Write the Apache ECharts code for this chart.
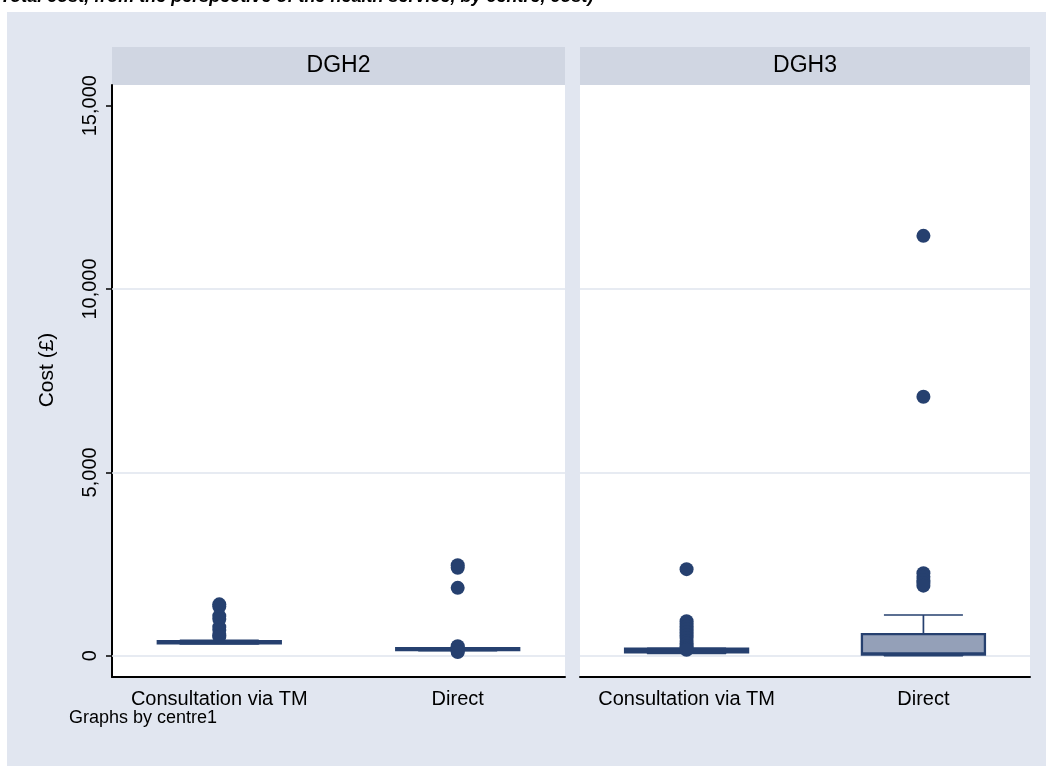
<!DOCTYPE html>
<html>
<head>
<meta charset="utf-8">
<script src="https://cdn.jsdelivr.net/npm/echarts@6/dist/echarts.min.js"></script>
<style>
html,body{margin:0;padding:0;background:#fff;}
#chart{width:1053px;height:773px;}
</style>
</head>
<body>
<div id="chart"></div>
<script>
// ---- data ----
const categories = ['Consultation via TM', 'Direct'];
const panels = ['DGH2', 'DGH3'];
const yTicks = [0, 5000, 10000, 15000];
const gridValues = [0, 5000, 10000];
// [lower whisker, Q1, median, Q3, upper whisker]
const dgh2Boxes = [[320, 335, 365, 400, 420], [140, 150, 175, 205, 215]];
const dgh3Boxes = [[60, 90, 130, 190, 200], [0, 30, 60, 590, 1110]];
// outside values
const dgh2Outliers = [
  [1400, 1340, 1080, 1000, 780, 700, 560, 520],
  [2470, 2400, 1850, 260, 240, 120, 100]
];
const dgh3Outliers = [
  [2360, 940, 870, 800, 720, 640, 560, 480, 400, 330, 260, 200, 160],
  [11450, 7060, 2250, 2150, 2050, 1980, 1910]
];
const noteText = 'Graphs by centre1';
const yTitle = 'Cost (£)';
const topTitle = '(Total cost, from the perspective of the health service, by centre, cost)';

// ---- styles ----
const FONT = '"Liberation Sans", Arial, Helvetica, sans-serif';
const NAVY = '#26406f';
const BOXFILL = '#94a0b8';
const BG = '#e1e6f0';
const STRIP = '#d0d6e2';
const GRIDC = '#dfe4ee';

const grids = [
  {left: 112, top: 85, width: 453, height: 592},
  {left: 580, top: 85, width: 450, height: 592}
];
const xMin = 0.55, xMax = 2.45;
const yMin = -581, yMax = 15564;

function catLabel(v) {
  const i = Math.round(v) - 1;
  return categories[i] || '';
}

const xAxes = [];
const yAxes = [];
grids.forEach(function (g, gi) {
  xAxes.push({
    type: 'value', gridIndex: gi, min: xMin, max: xMax,
    axisLine: {show: true, onZero: false, lineStyle: {color: '#000', width: 2}},
    axisTick: {show: false},
    splitLine: {show: false},
    axisLabel: {
      show: true, customValues: [1, 2], formatter: catLabel,
      color: '#000', fontFamily: FONT, fontSize: 20, margin: 12
    }
  });
  xAxes.push({
    type: 'value', gridIndex: gi, min: xMin, max: xMax, show: false,
    axisLine: {show: false}, axisTick: {show: false}, axisLabel: {show: false}, splitLine: {show: false}
  });
  yAxes.push({
    type: 'value', gridIndex: gi, min: yMin, max: yMax,
    axisLine: {show: gi === 0, onZero: false, lineStyle: {color: '#000', width: 2}},
    axisTick: {show: gi === 0, customValues: yTicks, length: 6, lineStyle: {color: '#000', width: 1.5}},
    splitLine: {show: false},
    axisLabel: {
      show: gi === 0, customValues: yTicks, rotate: 90, margin: 12,
      color: '#000', fontFamily: FONT, fontSize: 20,
      formatter: function (v) { return v.toLocaleString('en-US'); }
    }
  });
});

const series = [];
[dgh2Boxes, dgh3Boxes].forEach(function (boxes, gi) {
  const whiskerData = boxes.map(function (b, i) { return [i + 1, b[0], b[1], b[2], b[3], b[4]]; });
  const boxData = boxes.map(function (b, i) { return [i + 1, b[1], b[1], b[2], b[3], b[3]]; });
  series.push({
    type: 'boxplot', xAxisIndex: gi * 2 + 1, yAxisIndex: gi, z: 3,
    boxWidth: [79, 79], data: whiskerData, silent: true,
    itemStyle: {color: BOXFILL, borderColor: NAVY, borderWidth: 1.7},
    emphasis: {disabled: true}
  });
  series.push({
    type: 'boxplot', xAxisIndex: gi * 2, yAxisIndex: gi, z: 4,
    boxWidth: [123, 123], data: boxData, silent: true,
    itemStyle: {color: BOXFILL, borderColor: NAVY, borderWidth: 2.3},
    emphasis: {disabled: true}
  });
});
[dgh2Outliers, dgh3Outliers].forEach(function (outs, gi) {
  const pts = [];
  outs.forEach(function (arr, i) { arr.forEach(function (v) { pts.push([i + 1, v]); }); });
  series.push({
    type: 'scatter', xAxisIndex: gi * 2, yAxisIndex: gi, z: 5,
    symbol: 'circle', symbolSize: 14, data: pts, silent: true,
    itemStyle: {color: NAVY, opacity: 1},
    markLine: {
      silent: true, symbol: ['none', 'none'], z: 1, animation: false,
      label: {show: false},
      lineStyle: {color: GRIDC, width: 1.5, type: 'solid'},
      emphasis: {disabled: true},
      data: gridValues.map(function (v) { return {yAxis: v}; })
    }
  });
});

const graphics = [
  {type: 'rect', z: -12, silent: true, shape: {x: 7, y: 12, width: 1039, height: 754}, style: {fill: BG}},
  {type: 'text', z: 10, silent: true, x: -6, y: 6,
   style: {text: topTitle, fill: '#000', font: 'italic bold 18px ' + FONT, verticalAlign: 'bottom', align: 'left'}},
  {type: 'text', z: 10, silent: true, x: 69, y: 718,
   style: {text: noteText, fill: '#000', font: '18px ' + FONT, verticalAlign: 'middle', align: 'left'}},
  {type: 'text', z: 10, silent: true, x: 47, y: 370, rotation: Math.PI / 2,
   style: {text: yTitle, fill: '#000', font: '21px ' + FONT, verticalAlign: 'middle', align: 'center'}}
];
grids.forEach(function (g, gi) {
  graphics.push({type: 'rect', z: -11, silent: true,
    shape: {x: g.left, y: 47, width: g.width, height: g.top - 47}, style: {fill: STRIP}});
  graphics.push({type: 'rect', z: -11, silent: true,
    shape: {x: g.left, y: g.top, width: g.width, height: g.height}, style: {fill: '#fff'}});
  graphics.push({type: 'text', z: 10, silent: true, x: g.left + g.width / 2, y: 66,
    style: {text: panels[gi], fill: '#000', font: '23px ' + FONT, verticalAlign: 'middle', align: 'center'}});
});

const chart = echarts.init(document.getElementById('chart'), null, {renderer: 'canvas'});
chart.setOption({
  backgroundColor: '#fff',
  animation: false,
  grid: grids.map(function (g) { return Object.assign({containLabel: false, show: false}, g); }),
  xAxis: xAxes,
  yAxis: yAxes,
  series: series,
  graphic: {elements: graphics}
});
</script>
</body>
</html>
